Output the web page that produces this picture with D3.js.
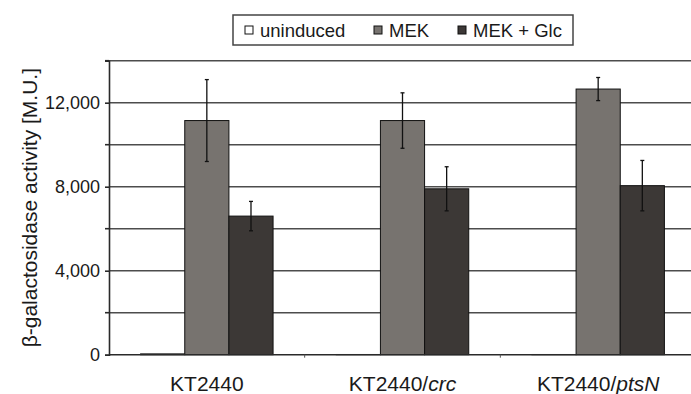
<!DOCTYPE html>
<html>
<head>
<meta charset="utf-8">
<script src="https://cdn.jsdelivr.net/npm/d3@7"></script>
<style>
	body { margin: 0; background: #fff; }
	text { font-family: "Liberation Sans", Arial, sans-serif; fill: #1a1a1a; }
</style>
</head>
<body>
<div id="chart"></div>
<script>
/**
 * Chart data.
 */
var strains = ["KT2440", "KT2440/crc", "KT2440/ptsN"];
var series = ["uninduced", "MEK", "MEK + Glc"];
var uninduced = [40, 10, 10];
var mek = [11150, 11150, 12650];
var mekGlc = [6600, 7900, 8050];
var uninducedErr = [0, 0, 0];
var mekErr = [1950, 1320, 550];
var mekGlcErr = [700, 1050, 1200];
var yTicks = [0, 4000, 8000, 12000];
var yLabel = "β-galactosidase activity [M.U.]";

{
	var width = 691,
		height = 394,
		margin = { top: 60.7, right: -5, bottom: 39.3, left: 109 };

	var colors = ["#ffffff", "#77736f", "#3c3836"];

	var svg = d3.select("#chart").append("svg")
		.attr("width", width)
		.attr("height", height);

	var y = d3.scaleLinear()
		.domain([0, 14000])
		.range([height - margin.bottom, margin.top]);

	var x = d3.scaleBand()
		.domain(strains)
		.range([margin.left, width - margin.right])
		.paddingInner(0.323)
		.paddingOuter(0.1615);

	var xs = d3.scaleBand()
		.domain(series)
		.range([0, x.bandwidth()]);

	// Grid lines every 2000.
	svg.append("g")
		.selectAll("line")
		.data(d3.range(2000, 14001, 2000))
		.enter().append("line")
		.attr("x1", margin.left)
		.attr("x2", width)
		.attr("y1", function (d) { return y(d); })
		.attr("y2", function (d) { return y(d); })
		.attr("stroke", "#4d4d4d")
		.attr("stroke-width", 1.6);

	// Y axis.
	var yAxis = svg.append("g")
		.attr("transform", "translate(" + margin.left + ",0)")
		.call(d3.axisLeft(y).tickValues(yTicks).tickSize(4).tickPadding(5)
			.tickFormat(d3.format(",")));
	yAxis.select(".domain").attr("stroke", "#2a2a2a").attr("stroke-width", 1.6);
	yAxis.selectAll(".tick line").attr("stroke", "#2a2a2a").attr("stroke-width", 1.6);
	yAxis.selectAll(".tick text")
		.style("font-family", "'Liberation Sans', Arial, sans-serif")
		.style("font-size", "18px")
		.attr("fill", "#1a1a1a");

	// Ticks for the unlabelled grid lines.
	svg.append("g")
		.selectAll("line")
		.data(d3.range(2000, 14001, 4000))
		.enter().append("line")
		.attr("x1", margin.left - 4)
		.attr("x2", margin.left)
		.attr("y1", function (d) { return y(d); })
		.attr("y2", function (d) { return y(d); })
		.attr("stroke", "#2a2a2a")
		.attr("stroke-width", 1.6);

	// Bars.
	var rows = strains.map(function (s, i) {
		return [
			{ strain: s, key: series[0], value: uninduced[i], err: uninducedErr[i], color: colors[0] },
			{ strain: s, key: series[1], value: mek[i], err: mekErr[i], color: colors[1] },
			{ strain: s, key: series[2], value: mekGlc[i], err: mekGlcErr[i], color: colors[2] }
		];
	});

	var group = svg.append("g").selectAll("g")
		.data(rows)
		.enter().append("g")
		.attr("transform", function (d, i) { return "translate(" + x(strains[i]) + ",0)"; });

	group.selectAll("rect")
		.data(function (d) { return d; })
		.enter().append("rect")
		.attr("x", function (d) { return xs(d.key); })
		.attr("width", xs.bandwidth())
		.attr("y", function (d) { return y(d.value); })
		.attr("height", function (d) { return y(0) - y(d.value); })
		.attr("fill", function (d) { return d.color; })
		.attr("stroke", "#111")
		.attr("stroke-width", 1);

	// Error bars.
	var errs = group.selectAll("g.err")
		.data(function (d) { return d.filter(function (e) { return e.err > 0; }); })
		.enter().append("g")
		.attr("class", "err")
		.attr("transform", function (d) { return "translate(" + (xs(d.key) + xs.bandwidth() / 2) + ",0)"; });
	errs.append("line")
		.attr("y1", function (d) { return y(d.value + d.err); })
		.attr("y2", function (d) { return y(d.value - d.err); })
		.attr("stroke", "#111")
		.attr("stroke-width", 1.3);
	errs.selectAll("line.cap")
		.data(function (d) { return [d.value + d.err, d.value - d.err]; })
		.enter().append("line")
		.attr("class", "cap")
		.attr("x1", -2)
		.attr("x2", 2)
		.attr("y1", function (d) { return y(d); })
		.attr("y2", function (d) { return y(d); })
		.attr("stroke", "#111")
		.attr("stroke-width", 1.3);

	// X axis.
	var xAxis = svg.append("g")
		.attr("transform", "translate(0," + y(0) + ")");
	xAxis.append("line")
		.attr("x1", margin.left)
		.attr("x2", width)
		.attr("stroke", "#2a2a2a")
		.attr("stroke-width", 1.6);
	xAxis.selectAll("line.tick")
		.data(strains.slice(1))
		.enter().append("line")
		.attr("class", "tick")
		.attr("x1", function (d) { return x(d) - x.step() * x.paddingInner() / 2; })
		.attr("x2", function (d) { return x(d) - x.step() * x.paddingInner() / 2; })
		.attr("y1", 0)
		.attr("y2", 3)
		.attr("stroke", "#555");

	// Category labels, mutant names in italics.
	var labels = xAxis.selectAll("text")
		.data(strains)
		.enter().append("text")
		.attr("x", function (d) { return x(d) + x.bandwidth() / 2; })
		.attr("y", 36)
		.attr("text-anchor", "middle")
		.style("font-size", "21px");
	labels.each(function (d) {
		var parts = d.split("/");
		var t = d3.select(this);
		t.append("tspan").text(parts[0] + (parts.length > 1 ? "/" : ""));
		if (parts.length > 1) {
			t.append("tspan").style("font-style", "italic").text(parts[1]);
		}
	});

	// Y axis title.
	svg.append("text")
		.attr("transform", "translate(37," + (y(0) + y(14000)) / 2 + ") rotate(-90)")
		.attr("text-anchor", "middle")
		.style("font-size", "21px")
		.text(yLabel);

	// Legend.
	var legend = svg.append("g").attr("transform", "translate(233,15)");
	legend.append("rect")
		.attr("width", 340)
		.attr("height", 30)
		.attr("fill", "#fff")
		.attr("stroke", "#444")
		.attr("stroke-width", 1.5);
	var legendX = [12, 141, 225];
	var item = legend.selectAll("g.item")
		.data(series)
		.enter().append("g")
		.attr("class", "item")
		.attr("transform", function (d, i) { return "translate(" + legendX[i] + ",0)"; });
	item.append("rect")
		.attr("x", 0)
		.attr("y", 11)
		.attr("width", 8)
		.attr("height", 8)
		.attr("fill", function (d, i) { return colors[i]; })
		.attr("stroke", "#111");
	item.append("text")
		.attr("x", 15)
		.attr("y", 21.5)
		.style("font-size", "18.5px")
		.text(function (d) { return d; });
}
</script>
</body>
</html>
